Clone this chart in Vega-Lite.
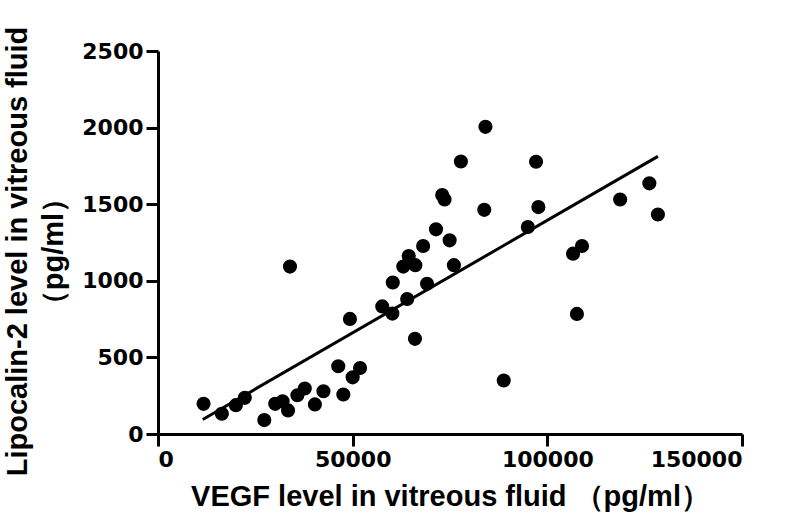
{
  "$schema": "https://vega.github.io/schema/vega-lite/v6.json",
  "width": 584,
  "height": 383,
  "autosize": {"type": "none"},
  "padding": {"left": 158, "top": 51, "right": 45, "bottom": 92},
  "background": "white",
  "config": {
    "view": {"stroke": null},
    "axis": {
      "grid": false,
      "domainColor": "black",
      "domainWidth": 3,
      "tickColor": "black",
      "tickWidth": 3,
      "tickSize": 12,
      "labelFont": "DejaVu Sans",
      "labelFontWeight": "bold",
      "labelFontSize": 22,
      "labelColor": "black",
      "titleFont": "Liberation Sans",
      "titleFontWeight": "bold",
      "titleFontSize": 29,
      "titleColor": "black"
    }
  },
  "datasets": {
    "points": [
      {"vegf": 11700, "lcn2": 197},
      {"vegf": 16400, "lcn2": 132},
      {"vegf": 20000, "lcn2": 188},
      {"vegf": 22300, "lcn2": 236},
      {"vegf": 27300, "lcn2": 91},
      {"vegf": 30100, "lcn2": 197},
      {"vegf": 32000, "lcn2": 214},
      {"vegf": 33400, "lcn2": 154},
      {"vegf": 33900, "lcn2": 1093},
      {"vegf": 35800, "lcn2": 253},
      {"vegf": 37700, "lcn2": 297},
      {"vegf": 40300, "lcn2": 193},
      {"vegf": 42500, "lcn2": 279},
      {"vegf": 46300, "lcn2": 442},
      {"vegf": 47600, "lcn2": 258},
      {"vegf": 49300, "lcn2": 751},
      {"vegf": 50000, "lcn2": 370},
      {"vegf": 51900, "lcn2": 431},
      {"vegf": 57600, "lcn2": 833},
      {"vegf": 60200, "lcn2": 786},
      {"vegf": 60300, "lcn2": 989},
      {"vegf": 63000, "lcn2": 1093},
      {"vegf": 64400, "lcn2": 1162},
      {"vegf": 66100, "lcn2": 1102},
      {"vegf": 64000, "lcn2": 881},
      {"vegf": 66000, "lcn2": 621},
      {"vegf": 68100, "lcn2": 1227},
      {"vegf": 69100, "lcn2": 981},
      {"vegf": 71400, "lcn2": 1336},
      {"vegf": 73000, "lcn2": 1560},
      {"vegf": 73600, "lcn2": 1531},
      {"vegf": 74900, "lcn2": 1264},
      {"vegf": 76000, "lcn2": 1102},
      {"vegf": 77800, "lcn2": 1779},
      {"vegf": 83800, "lcn2": 1463},
      {"vegf": 84100, "lcn2": 2005},
      {"vegf": 88800, "lcn2": 349},
      {"vegf": 95000, "lcn2": 1351},
      {"vegf": 97100, "lcn2": 1777},
      {"vegf": 97700, "lcn2": 1481},
      {"vegf": 106600, "lcn2": 1177},
      {"vegf": 107600, "lcn2": 784},
      {"vegf": 108900, "lcn2": 1227},
      {"vegf": 118700, "lcn2": 1531},
      {"vegf": 126200, "lcn2": 1636},
      {"vegf": 128400, "lcn2": 1433}
    ],
    "fit": [
      {"vegf": 11500, "lcn2": 95},
      {"vegf": 128400, "lcn2": 1812}
    ]
  },
  "encoding": {
    "x": {
      "field": "vegf",
      "type": "quantitative",
      "scale": {"domain": [0, 150000], "nice": false},
      "axis": {
        "values": [0, 50000, 100000, 150000],
        "format": "d",
        "labelPadding": 3,
        "title": "VEGF level in vitreous fluid （pg/ml）",
        "titlePadding": 12
      }
    },
    "y": {
      "field": "lcn2",
      "type": "quantitative",
      "scale": {"domain": [0, 2500], "nice": false},
      "axis": {
        "values": [0, 500, 1000, 1500, 2000, 2500],
        "format": "d",
        "labelPadding": 3,
        "title": ["Lipocalin-2 level in vitreous fluid", "（pg/ml）"],
        "titleLineHeight": 36,
        "titlePadding": 13,
        "titleY": 200
      }
    }
  },
  "layer": [
    {
      "data": {"name": "fit"},
      "mark": {"type": "line", "color": "black", "strokeWidth": 3}
    },
    {
      "data": {"name": "points"},
      "mark": {"type": "circle", "color": "black", "opacity": 1, "size": 200}
    }
  ]
}
